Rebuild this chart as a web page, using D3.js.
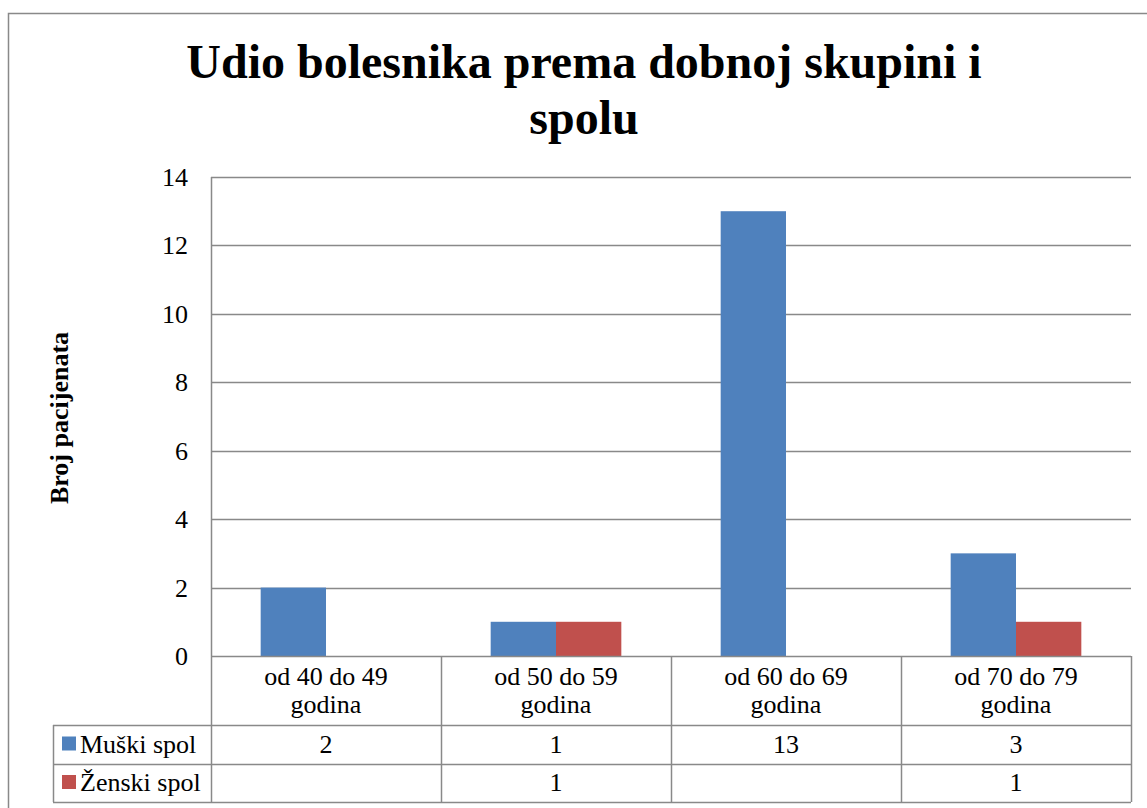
<!DOCTYPE html>
<html>
<head>
<meta charset="utf-8">
<script src="https://cdn.jsdelivr.net/npm/d3@7"></script>
<style>
  body { margin: 0; background: #fff; }
</style>
</head>
<body>
<div id="chart"></div>
<script>
const categories = [
  ['od 40 do 49', 'godina'],
  ['od 50 do 59', 'godina'],
  ['od 60 do 69', 'godina'],
  ['od 70 do 79', 'godina'],
]
const seriesNames = ['Muški spol', 'Ženski spol']
const muski = [2, 1, 13, 3]
const zenski = [null, 1, null, 1]
const yTicks = [0, 2, 4, 6, 8, 10, 12, 14]
const colors = ['#4F81BD', '#C0504D']

const W = 1147, H = 808
const pl = { left: 211, right: 1131, top: 177, bottom: 656 } // plot area
const tbl = { left: 53, row1: 725, row2: 764, row3: 802 } // data table
const grid = '#898989'
const FONT = "'Liberation Serif', 'Times New Roman', serif"
const fs = 26 // body text size

const svg = d3.select('#chart').append('svg')
  .attr('width', W).attr('height', H)

// every text gets the serif font
const txt = (sel) => sel.append('text').style('font-family', FONT)

// outer chart border
svg.append('rect')
  .attr('x', 8.5).attr('y', 13.5)
  .attr('width', W).attr('height', H)
  .attr('fill', 'none').attr('stroke', grid).attr('stroke-width', 1.5)

// title
const title = txt(svg)
  .attr('text-anchor', 'middle')
  .attr('font-weight', 'bold')
  .attr('font-size', 48)
title.append('tspan').attr('x', 584).attr('y', 78).text('Udio bolesnika prema dobnoj skupini i')
title.append('tspan').attr('x', 584).attr('y', 134).text('spolu')

const x = d3.scaleBand()
  .domain(d3.range(categories.length))
  .range([pl.left, pl.right])

const y = d3.scaleLinear().domain([0, 14]).range([pl.bottom, pl.top])

// gridlines
svg.append('g').selectAll('line')
  .data(yTicks.filter(d => d > 0))
  .join('line')
  .attr('x1', pl.left).attr('x2', pl.right)
  .attr('y1', d => Math.round(y(d)) + 0.5).attr('y2', d => Math.round(y(d)) + 0.5)
  .attr('stroke', grid).attr('stroke-width', 1.5)

// y axis line
svg.append('line')
  .attr('x1', pl.left + 0.5).attr('x2', pl.left + 0.5)
  .attr('y1', pl.top).attr('y2', pl.bottom)
  .attr('stroke', grid).attr('stroke-width', 1.5)

// tick labels
svg.append('g').selectAll('text')
  .data(yTicks)
  .join('text')
  .style('font-family', FONT)
  .attr('x', 188).attr('y', d => y(d) + 9)
  .attr('text-anchor', 'end')
  .attr('font-size', fs)
  .text(d => d)

// y label
txt(svg)
  .attr('transform', `translate(68,418) rotate(-90)`)
  .attr('text-anchor', 'middle')
  .attr('font-weight', 'bold')
  .attr('font-size', fs)
  .text('Broj pacijenata')

// bars
const barW = x.bandwidth() * 0.284
const series = [muski, zenski]
series.forEach((vals, si) => {
  svg.append('g').selectAll('rect')
    .data(vals.map((v, i) => ({ v, i })).filter(d => d.v != null))
    .join('rect')
    .attr('x', d => x(d.i) + x.bandwidth() / 2 - barW + si * barW)
    .attr('width', barW)
    .attr('y', d => y(d.v))
    .attr('height', d => y(0) - y(d.v))
    .attr('fill', colors[si])
})

// data table
const tg = svg.append('g').attr('stroke', grid).attr('stroke-width', 1.5)
// horizontal lines
tg.append('line').attr('x1', pl.left).attr('x2', pl.right).attr('y1', pl.bottom + 0.5).attr('y2', pl.bottom + 0.5)
;[tbl.row1, tbl.row2, tbl.row3].forEach(yy => {
  tg.append('line').attr('x1', tbl.left).attr('x2', pl.right).attr('y1', yy + 0.5).attr('y2', yy + 0.5)
})
// vertical lines
tg.append('line').attr('x1', tbl.left + 0.5).attr('x2', tbl.left + 0.5).attr('y1', tbl.row1).attr('y2', tbl.row3)
d3.range(categories.length + 1).forEach(i => {
  const xx = i < categories.length ? x(i) : pl.right
  tg.append('line').attr('x1', xx + 0.5).attr('x2', xx + 0.5).attr('y1', pl.bottom).attr('y2', tbl.row3)
})

// category labels
categories.forEach((c, i) => {
  const t = txt(svg)
    .attr('text-anchor', 'middle').attr('font-size', fs)
  c.forEach((line, li) => {
    t.append('tspan').attr('x', x(i) + x.bandwidth() / 2).attr('y', 685 + li * 28).text(line)
  })
})

// legend keys + values
const rowMid = [(tbl.row1 + tbl.row2) / 2, (tbl.row2 + tbl.row3) / 2]
series.forEach((vals, si) => {
  svg.append('rect')
    .attr('x', 62).attr('y', rowMid[si] - 8)
    .attr('width', 14).attr('height', 14)
    .attr('fill', colors[si])
  txt(svg)
    .attr('x', 80).attr('y', rowMid[si] + 8)
    .attr('font-size', fs)
    .text(seriesNames[si])
  svg.append('g').selectAll('text')
    .data(vals.map((v, i) => ({ v, i })).filter(d => d.v != null))
    .join('text')
    .style('font-family', FONT)
    .attr('x', d => x(d.i) + x.bandwidth() / 2)
    .attr('y', rowMid[si] + 8)
    .attr('text-anchor', 'middle')
    .attr('font-size', fs)
    .text(d => d.v)
})
</script>
</body>
</html>
